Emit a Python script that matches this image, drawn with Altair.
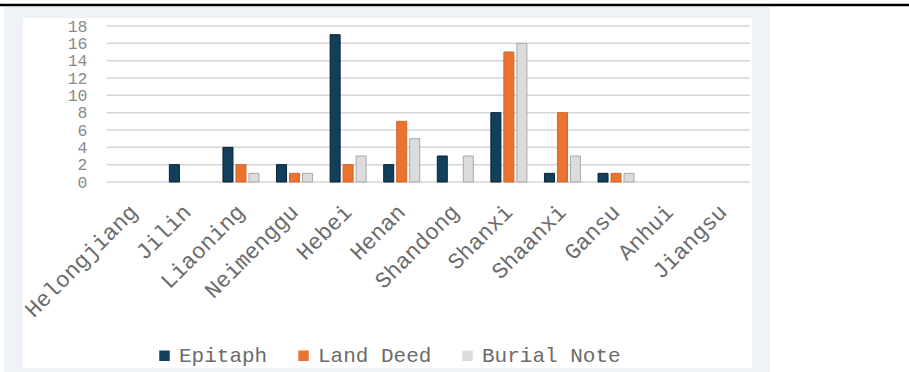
import altair as alt
import pandas as pd

provinces = ["Helongjiang", "Jilin", "Liaoning", "Neimenggu", "Hebei", "Henan",
             "Shandong", "Shanxi", "Shaanxi", "Gansu", "Anhui", "Jiangsu"]
series = ["Epitaph", "Land Deed", "Burial Note"]
epitaph = [0, 2, 4, 2, 17, 2, 3, 8, 1, 1, 0, 0]
land_deed = [0, 0, 2, 1, 2, 7, 0, 15, 8, 1, 0, 0]
burial_note = [0, 0, 1, 1, 3, 5, 3, 16, 3, 1, 0, 0]
y_ticks = [0, 2, 4, 6, 8, 10, 12, 14, 16, 18]

rows = []
for i, p in enumerate(provinces):
    for s, vals in zip(series, [epitaph, land_deed, burial_note]):
        rows.append({"Province": p, "Type": s, "Count": vals[i]})
df = pd.DataFrame(rows)
grid_df = pd.DataFrame({"v": y_ticks})
one = pd.DataFrame({"a": [0]})

W, H = 643, 156
FONT = "Liberation Mono"

y_scale = alt.Scale(domain=[0, 18], nice=False)
y_axis = alt.Axis(title=None, values=y_ticks, labelFont=FONT,
                  labelFontSize=16.5, labelColor="#8a8a8a",
                  labelPadding=20, labelOverlap=False,
                  ticks=False, domain=False, grid=False, zindex=1)

top_line = alt.Chart(one).mark_rule(color="black", strokeWidth=2.5).encode(
    x=alt.value(-107), x2=alt.value(802), y=alt.value(-21))
panel = alt.Chart(one).mark_rect(color="#eff2f7").encode(
    x=alt.value(-103), x2=alt.value(663), y=alt.value(-19), y2=alt.value(346))
inner = alt.Chart(one).mark_rect(color="white").encode(
    x=alt.value(-84), x2=alt.value(645), y=alt.value(-8), y2=alt.value(342))

grid = alt.Chart(grid_df).mark_rule(color="#d6d6d6", strokeWidth=1.5).encode(
    y=alt.Y("v:Q", scale=y_scale, axis=y_axis),
    x=alt.value(0), x2=alt.value(W))

bars = alt.Chart(df).transform_filter(alt.datum.Count > 0).mark_bar(strokeWidth=1).encode(
    x=alt.X("Province:N", sort=provinces,
            scale=alt.Scale(domain=provinces, paddingInner=0.272, paddingOuter=0.136),
            axis=alt.Axis(title=None, labelAngle=-45, labelAlign="right",
                          labelBaseline="middle", labelPadding=26,
                          labelFont=FONT, labelFontSize=22.5, labelColor="#6b6b6b",
                          ticks=False, domain=False, grid=False, zindex=1)),
    xOffset=alt.XOffset("Type:N", sort=series,
                        scale=alt.Scale(domain=series, paddingInner=0.23, paddingOuter=0.115)),
    y=alt.Y("Count:Q", scale=y_scale, axis=y_axis),
    color=alt.Color("Type:N", sort=series,
                    scale=alt.Scale(domain=series,
                                    range=["#113f5c", "#ea7330", "#dcdcdc"]),
                    legend=alt.Legend(title=None, orient="none", direction="horizontal",
                                      legendX=47, legendY=319, symbolType="square",
                                      symbolSize=110, labelFont=FONT, labelFontSize=21,
                                      labelColor="#6b6b6b", labelOffset=4,
                                      columnPadding=25, zindex=1,
                                      symbolStrokeWidth=0)),
    stroke=alt.Stroke("Type:N", sort=series,
                      scale=alt.Scale(domain=series,
                                      range=["#0a2233", "#d0662a", "#a8a8a8"]),
                      legend=None),
)

chart = alt.layer(top_line, panel, inner, grid, bars).properties(
    width=W, height=H,
    autosize=alt.AutoSizeParams(type="none"),
    padding={"left": 107, "top": 26, "right": 159, "bottom": 190},
    background="white",
).configure_view(stroke=None)

chart.save("out.html", embed_options={"renderer": "svg", "actions": False})
